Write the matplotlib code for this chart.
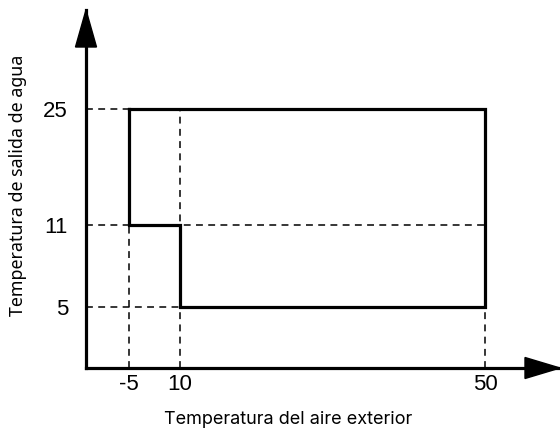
import numpy as np
import matplotlib
matplotlib.use("Agg")
import matplotlib.pyplot as plt
from matplotlib.patches import Polygon
from matplotlib.transforms import Affine2D

# ---- data ----
x_ticks = [-5, 10, 50]
y_ticks = [5, 11, 25]
x_ticklabels = ["-5", "10", "50"]
y_ticklabels = ["5", "11", "25"]
# operating envelope (outdoor air temp, water outlet temp)
env_x = [-5, 50, 50, 10, 10, -5, -5]
env_y = [25, 25, 5, 5, 11, 11, 25]
xlabel = "Temperatura del aire exterior"
ylabel = "Temperatura de salida de agua"

W, H = 560, 432
fig = plt.figure(figsize=(W / 100, H / 100), dpi=100)

# plot area in pixels (origin top-left)
ax_l, ax_r, ax_t, ax_b = 86, 560, 10, 368
ax = fig.add_axes([ax_l / W, (H - ax_b) / H, (ax_r - ax_l) / W, (ax_b - ax_t) / H])

# schematic (non-linear) scales: value -> pixel anchors
XV = np.array([-45.0, -5.0, 10.0, 50.0, 70.0])
XP = np.array([129 - 40 * 3.4, 129.0, 180.0, 485.0, 485 + 20 * 7.6])
YV = np.array([-30.0, 5.0, 11.0, 25.0, 60.0])
YP = np.array([H - (307 + 35 * 13.33), H - 307.0, H - 225.0, H - 109.0, H - (109 - 35 * 8.36)])

def fx(v):
    return np.interp(v, XV, XP)
def ifx(p):
    return np.interp(p, XP, XV)
def fy(v):
    return np.interp(v, YV, YP)
def ify(p):
    return np.interp(p, YP, YV)

ax.set_xscale("function", functions=(fx, ifx))
ax.set_yscale("function", functions=(fy, ify))
ax.set_xlim(ifx(ax_l), ifx(ax_r))
ax.set_ylim(ify(H - ax_b), ify(H - ax_t))

# dashed guide lines
dkw = dict(color="black", lw=1.1, dashes=(4.5, 3.5), zorder=1)
x0 = ax.get_xlim()[0]
y0 = ax.get_ylim()[0]
ax.plot([x0, -5], [25, 25], **dkw)
ax.plot([x0, 50], [11, 11], **dkw)
ax.plot([x0, 10], [5, 5], **dkw)
ax.plot([-5, -5], [y0, 25], **dkw)
ax.plot([10, 10], [y0, 25], **dkw)
ax.plot([50, 50], [y0, 5], **dkw)

# envelope
ax.plot(env_x, env_y, color="black", lw=2.3, solid_joinstyle="miter", zorder=3)

# spines / axes
for s in ["top", "right"]:
    ax.spines[s].set_visible(False)
for s in ["left", "bottom"]:
    ax.spines[s].set_linewidth(2.3)
    ax.spines[s].set_color("black")

tick_font = dict(family="Liberation Sans", size=16)
ax.set_xticks(x_ticks)
ax.set_xticklabels(x_ticklabels, **tick_font)
ax.set_yticks(y_ticks)
ax.set_yticklabels(y_ticklabels, **tick_font)
ax.xaxis.set_minor_locator(matplotlib.ticker.NullLocator())
ax.yaxis.set_minor_locator(matplotlib.ticker.NullLocator())
ax.tick_params(length=0)
ax.tick_params(axis="x", pad=4)
ax.tick_params(axis="y", pad=13)

# arrowheads in pixel coords
pix = Affine2D().scale(1 / W, -1 / H).translate(0, 1) + fig.transFigure
fig.patches.append(Polygon([[75.5, 47], [96.5, 47], [86, 10]], closed=True,
                           color="black", transform=pix))
fig.patches.append(Polygon([[525, 357.5], [525, 378.5], [560, 368]], closed=True,
                           color="black", transform=pix))

# axis labels
fig.text(288 / W, 1 - 419 / H, xlabel, ha="center", va="center",
         family="Inter", size=13, transform=fig.transFigure)
fig.text(18 / W, 1 - 185 / H, ylabel, ha="center", va="center", rotation=90,
         family="Noto Sans", size=12.8, transform=fig.transFigure)

fig.savefig("out.png", dpi=100)
